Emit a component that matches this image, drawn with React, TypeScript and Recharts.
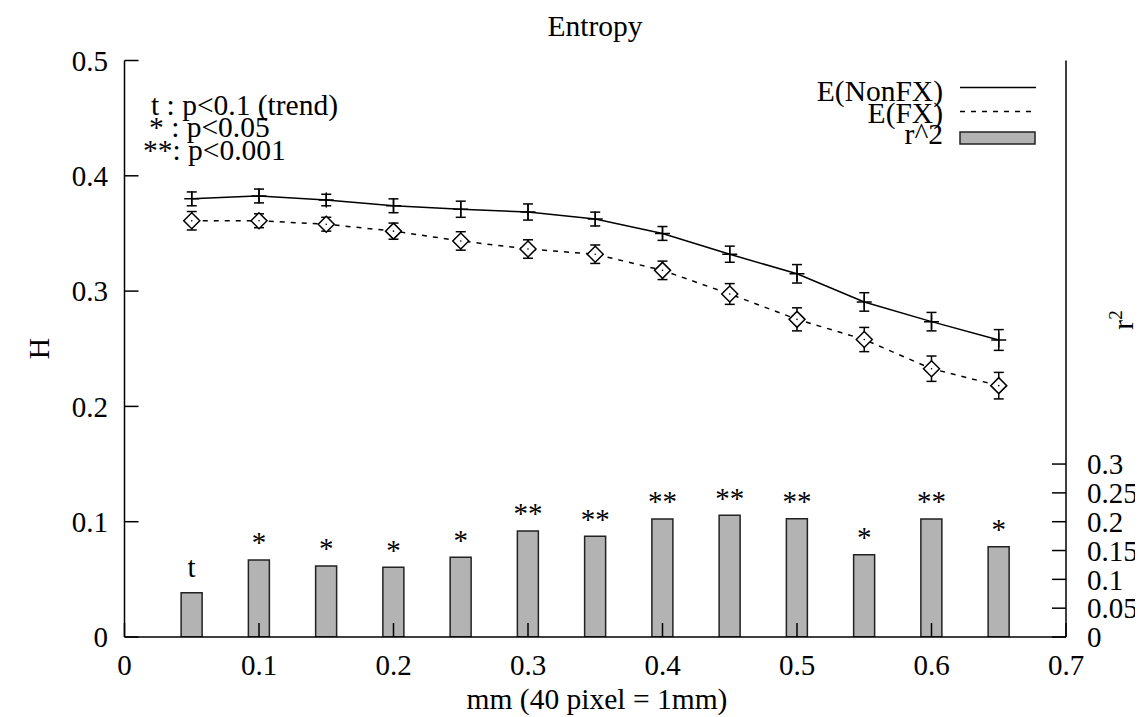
import React from 'react';
import { ComposedChart, Line, Bar, XAxis, YAxis, ErrorBar, LabelList } from 'recharts';

const xs = [0.05, 0.1, 0.15, 0.2, 0.25, 0.3, 0.35, 0.4, 0.45, 0.5, 0.55, 0.6, 0.65];
const nonFX = [0.380, 0.3825, 0.379, 0.374, 0.371, 0.3686, 0.3625, 0.350, 0.332, 0.315, 0.2906, 0.2735, 0.2576];
const nonFXErr = [0.006, 0.006, 0.005, 0.006, 0.007, 0.007, 0.006, 0.006, 0.007, 0.008, 0.008, 0.008, 0.009];
const fx = [0.361, 0.361, 0.358, 0.352, 0.3435, 0.3365, 0.332, 0.318, 0.2975, 0.2755, 0.258, 0.2327, 0.218];
const fxErr = [0.008, 0.006, 0.006, 0.007, 0.008, 0.008, 0.008, 0.008, 0.009, 0.010, 0.0105, 0.011, 0.0115];
const r2 = [0.0768, 0.1336, 0.1232, 0.1209, 0.1382, 0.1839, 0.1747, 0.2047, 0.2111, 0.2052, 0.1428, 0.2047, 0.1566];
const sig = ['t', '*', '*', '*', '*', '**', '**', '**', '**', '**', '*', '**', '*'];

const xTicks = [0, 0.1, 0.2, 0.3, 0.4, 0.5, 0.6, 0.7];
const yTicks = [0, 0.1, 0.2, 0.3, 0.4, 0.5];
const y2Ticks = [0, 0.05, 0.1, 0.15, 0.2, 0.25, 0.3];

const data = xs.map((x, i) => ({
  x,
  nonFX: nonFX[i],
  nonFXErr: nonFXErr[i],
  fx: fx[i],
  fxErr: fxErr[i],
  r2: r2[i],
  sig: sig[i],
}));

const FONT = 'Liberation Serif, Times New Roman, serif';
const FS = 29;
const FS2 = 29.5;
const tickStyle = { fontFamily: FONT, fontSize: FS, fill: '#000' };

const W = 1135;
const H = 709;

const plusDot = (p: any) => {
  const { cx, cy, index } = p;
  if (cx == null || cy == null) return <g key={`p${index}`} />;
  return (
    <path
      key={`p${index}`}
      d={`M${cx - 7.5},${cy}H${cx + 7.5}M${cx},${cy - 7.5}V${cy + 7.5}`}
      stroke="#000"
      strokeWidth={1.5}
      fill="none"
    />
  );
};

const diamondDot = (p: any) => {
  const { cx, cy, index } = p;
  if (cx == null || cy == null) return <g key={`d${index}`} />;
  return (
    <g key={`d${index}`}>
      <path
        d={`M${cx},${cy - 8}L${cx + 8},${cy}L${cx},${cy + 8}L${cx - 8},${cy}Z`}
        stroke="#000"
        strokeWidth={1.5}
        fill="#fff"
      />
      <circle cx={cx} cy={cy} r={0.8} fill="#000" />
    </g>
  );
};

const sigLabel = (p: any) => {
  const { x, y, width, value, index } = p;
  const base = value === 't' ? y - 15.5 : y - 7.5;
  return (
    <text
      key={`s${index}`}
      x={x + width / 2}
      y={base}
      textAnchor="middle"
      fontFamily={FONT}
      fontSize={FS}
      fill="#000"
    >
      {value}
    </text>
  );
};

export default function App() {
  return (
    <div style={{ position: 'relative', width: W, height: H }}>
      <ComposedChart
        width={W}
        height={H}
        data={data}
        margin={{ top: 52.5, right: 0, bottom: 0, left: 0 }}
      >
        <XAxis
          xAxisId="b"
          dataKey="x"
          type="number"
          domain={[0, 0.7]}
          ticks={xTicks}
          allowDataOverflow
          height={80}
          tickSize={-14}
          tickMargin={31.4}
          tick={tickStyle}
          axisLine={{ stroke: '#000', strokeWidth: 1.5 }}
          tickLine={{ stroke: '#000', strokeWidth: 1.5 }}
          interval={0}
        />
        <XAxis
          xAxisId="t"
          dataKey="x"
          type="number"
          orientation="top"
          domain={[0, 0.7]}
          ticks={xTicks}
          allowDataOverflow
          height={0}
          tickSize={-14}
          tick={false}
          axisLine={{ stroke: '#000', strokeWidth: 1.5 }}
          tickLine={{ stroke: '#000', strokeWidth: 1.5 }}
          interval={0}
        />
        <YAxis
          yAxisId="l"
          type="number"
          domain={[0, 0.5]}
          ticks={yTicks}
          allowDataOverflow
          width={116.5}
          tickSize={-14}
          tickMargin={30.5}
          tick={tickStyle}
          axisLine={{ stroke: '#000', strokeWidth: 1.5 }}
          tickLine={{ stroke: '#000', strokeWidth: 1.5 }}
          interval={0}
        />
        <YAxis
          yAxisId="r"
          orientation="right"
          type="number"
          domain={[0, 1]}
          ticks={y2Ticks}
          allowDataOverflow
          width={77}
          tickSize={-14}
          tickMargin={35}
          tick={tickStyle}
          axisLine={{ stroke: '#000', strokeWidth: 1.5 }}
          tickLine={{ stroke: '#000', strokeWidth: 1.5 }}
          interval={0}
        />
        <Bar
          xAxisId="b"
          yAxisId="r"
          dataKey="r2"
          barSize={21}
          fill="#b3b3b3"
          stroke="#222"
          strokeWidth={1.5}
          isAnimationActive={false}
        >
          <LabelList dataKey="sig" content={sigLabel} />
        </Bar>
        <Line
          xAxisId="b"
          yAxisId="l"
          dataKey="nonFX"
          type="linear"
          stroke="#000"
          strokeWidth={1.5}
          dot={plusDot}
          activeDot={false}
          isAnimationActive={false}
        >
          <ErrorBar dataKey="nonFXErr" direction="y" width={5} stroke="#000" strokeWidth={1.5} />
        </Line>
        <Line
          xAxisId="b"
          yAxisId="l"
          dataKey="fx"
          type="linear"
          stroke="#000"
          strokeWidth={1.5}
          strokeDasharray="5 6"
          dot={diamondDot}
          activeDot={false}
          isAnimationActive={false}
        >
          <ErrorBar dataKey="fxErr" direction="y" width={5} stroke="#000" strokeWidth={1.5} />
        </Line>
      </ComposedChart>
      <svg
        width={W}
        height={H}
        style={{ position: 'absolute', left: 0, top: 0, pointerEvents: 'none' }}
      >
        <g transform="translate(-8,-8)" fontFamily={FONT} fontSize={FS2} fill="#000">
          <text x={595} y={36} textAnchor="middle">Entropy</text>
          <text x={597} y={709} textAnchor="middle">mm (40 pixel = 1mm)</text>
          <text x={49} y={348.5} textAnchor="middle" transform="rotate(-90,49,348.5)">H</text>
          <text x={1133} y={320} textAnchor="middle" transform="rotate(-90,1133,320)">
            r<tspan fontSize={19} dy={-11}>2</tspan>
          </text>
          <text x={151} y={115}>t : p&lt;0.1 (trend)</text>
          <text x={149} y={137}>* : p&lt;0.05</text>
          <text x={143} y={160}>**: p&lt;0.001</text>
          <text x={943} y={101} textAnchor="end">E(NonFX)</text>
          <text x={943} y={123} textAnchor="end">E(FX)</text>
          <text x={943} y={144} textAnchor="end">r^2</text>
          <line x1={960} y1={87.5} x2={1036} y2={87.5} stroke="#000" strokeWidth={1.5} />
          <line x1={960} y1={111.5} x2={1036} y2={111.5} stroke="#000" strokeWidth={1.5} strokeDasharray="5 6" />
          <rect x={960} y={132} width={75} height={12} fill="#b3b3b3" stroke="#222" strokeWidth={1.5} />
        </g>
      </svg>
    </div>
  );
}
